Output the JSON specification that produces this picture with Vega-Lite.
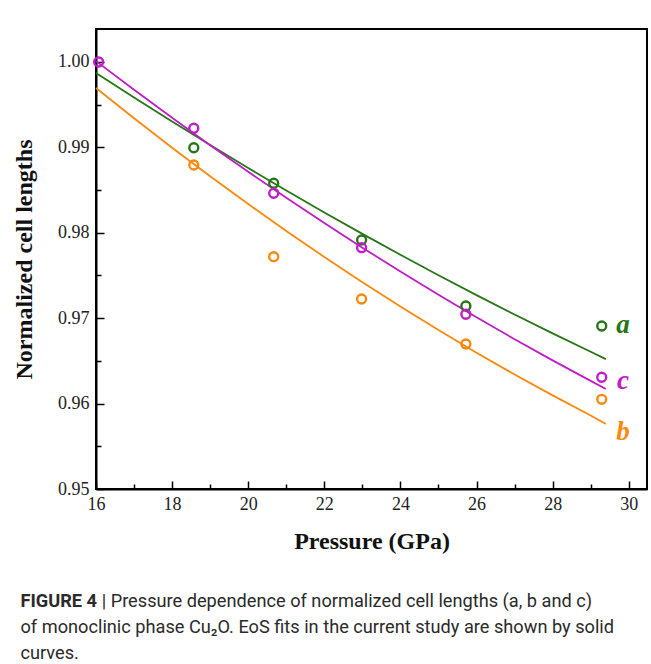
{
  "$schema": "https://vega.github.io/schema/vega-lite/v6.json",
  "width": 551,
  "height": 460,
  "padding": {"left": 12, "top": 29, "right": 5, "bottom": 5},
  "background": "white",
  "title": {
    "text": "FIGURE 4",
    "subtitle": ["\u200b\u00a0\u00a0\u00a0\u00a0\u00a0\u00a0\u00a0\u00a0\u00a0\u00a0\u00a0\u00a0\u00a0\u00a0\u00a0\u00a0\u00a0\u00a0| Pressure dependence of normalized cell lengths (a, b and c)", "of monoclinic phase Cu\u2082O. EoS fits in the current study are shown by solid", "curves."],
    "orient": "bottom",
    "anchor": "start",
    "frame": "bounds",
    "offset": 40,
    "dx": 8,
    "font": "Roboto, sans-serif",
    "fontSize": 18.2,
    "fontWeight": "bold",
    "color": "#2a2a2a",
    "subtitleFont": "Roboto, sans-serif",
    "subtitleFontSize": 18.2,
    "subtitleFontWeight": "normal",
    "subtitleColor": "#2a2a2a",
    "subtitleLineHeight": 26,
    "subtitlePadding": -18
  },
  "config": {
    "view": {"stroke": "black", "strokeWidth": 2},
    "axis": {
      "domainColor": "black",
      "domainWidth": 2,
      "tickColor": "black",
      "tickWidth": 1.5,
      "grid": false,
      "labelFont": "Liberation Serif",
      "labelFontSize": 18,
      "labelColor": "#222",
      "titleFont": "Liberation Serif",
      "titleFontWeight": "bold",
      "titleFontSize": 24,
      "titleColor": "#111"
    }
  },
  "datasets": {
    "curves": [
      {"s": "a", "P": 16, "L": 0.9987}, {"s": "a", "P": 17, "L": 0.99583}, {"s": "a", "P": 18, "L": 0.99302}, {"s": "a", "P": 19, "L": 0.99027}, {"s": "a", "P": 20, "L": 0.98758}, {"s": "a", "P": 21, "L": 0.98495}, {"s": "a", "P": 22, "L": 0.98238}, {"s": "a", "P": 23, "L": 0.97987}, {"s": "a", "P": 24, "L": 0.97742}, {"s": "a", "P": 25, "L": 0.97503}, {"s": "a", "P": 26, "L": 0.9727}, {"s": "a", "P": 27, "L": 0.97043}, {"s": "a", "P": 28, "L": 0.96822}, {"s": "a", "P": 29, "L": 0.96607}, {"s": "a", "P": 29.4, "L": 0.9652},
      {"s": "b", "P": 16, "L": 0.99696}, {"s": "b", "P": 17, "L": 0.99341}, {"s": "b", "P": 18, "L": 0.98996}, {"s": "b", "P": 19, "L": 0.98661}, {"s": "b", "P": 20, "L": 0.98336}, {"s": "b", "P": 21, "L": 0.98021}, {"s": "b", "P": 22, "L": 0.97716}, {"s": "b", "P": 23, "L": 0.97421}, {"s": "b", "P": 24, "L": 0.97136}, {"s": "b", "P": 25, "L": 0.96861}, {"s": "b", "P": 26, "L": 0.96596}, {"s": "b", "P": 27, "L": 0.96341}, {"s": "b", "P": 28, "L": 0.96096}, {"s": "b", "P": 29, "L": 0.95861}, {"s": "b", "P": 29.4, "L": 0.9576},
      {"s": "c", "P": 16, "L": 1.0001}, {"s": "c", "P": 17, "L": 0.99674}, {"s": "c", "P": 18, "L": 0.99346}, {"s": "c", "P": 19, "L": 0.99026}, {"s": "c", "P": 20, "L": 0.98714}, {"s": "c", "P": 21, "L": 0.9841}, {"s": "c", "P": 22, "L": 0.98114}, {"s": "c", "P": 23, "L": 0.97826}, {"s": "c", "P": 24, "L": 0.97546}, {"s": "c", "P": 25, "L": 0.97274}, {"s": "c", "P": 26, "L": 0.9701}, {"s": "c", "P": 27, "L": 0.96754}, {"s": "c", "P": 28, "L": 0.96506}, {"s": "c", "P": 29, "L": 0.96266}, {"s": "c", "P": 29.4, "L": 0.9617}
    ],
    "points": [
      {"s": "a", "P": 18.57, "L": 0.98996}, {"s": "a", "P": 20.67, "L": 0.9858}, {"s": "a", "P": 22.98, "L": 0.97916}, {"s": "a", "P": 25.72, "L": 0.97143}, {"s": "a", "P": 29.29, "L": 0.96909},
      {"s": "b", "P": 18.57, "L": 0.98794}, {"s": "b", "P": 20.67, "L": 0.9772}, {"s": "b", "P": 22.98, "L": 0.97225}, {"s": "b", "P": 25.72, "L": 0.96698}, {"s": "b", "P": 29.29, "L": 0.9605},
      {"s": "c", "P": 16.07, "L": 1.0}, {"s": "c", "P": 18.57, "L": 0.99224}, {"s": "c", "P": 20.67, "L": 0.98463}, {"s": "c", "P": 22.98, "L": 0.97826}, {"s": "c", "P": 25.72, "L": 0.97046}, {"s": "c", "P": 29.29, "L": 0.96308}
    ],
    "labels": [
      {"s": "a", "P": 29.85, "L": 0.9692},
      {"s": "c", "P": 29.85, "L": 0.96265},
      {"s": "b", "P": 29.85, "L": 0.95667}
    ]
  },
  "layer": [
    {
      "data": {"name": "curves"},
      "mark": {"type": "line", "strokeWidth": 1.8},
      "encoding": {
        "x": {"field": "P", "type": "quantitative", "scale": {"domain": [16, 30.48], "nice": false, "zero": false},
          "axis": {"orient": "bottom", "values": [16, 18, 20, 22, 24, 26, 28, 30], "tickSize": -8, "labelPadding": 14, "title": "Pressure (GPa)", "titlePadding": 16, "labelFlush": false}},
        "y": {"field": "L", "type": "quantitative", "scale": {"domain": [0.95, 1.00386], "nice": false, "zero": false},
          "axis": {"orient": "left", "values": [0.95, 0.96, 0.97, 0.98, 0.99, 1.0], "format": ".2f", "tickSize": -8, "labelPadding": 15, "title": "Normalized cell lengths", "titlePadding": 21, "labelFlush": false}},
        "color": {"field": "s", "type": "nominal", "scale": {"domain": ["a", "b", "c"], "range": ["#267616", "#ff880c", "#c01cc8"]}, "legend": null}
      }
    },
    {
      "data": {"name": "points"},
      "mark": {"type": "point", "shape": "circle", "filled": false, "size": 80, "strokeWidth": 2.4, "opacity": 1},
      "encoding": {
        "x": {"field": "P", "type": "quantitative",
          "axis": {"orient": "bottom", "values": [17, 19, 21, 23, 25, 27, 29], "tickSize": -5, "labels": false, "domain": false, "title": null}},
        "y": {"field": "L", "type": "quantitative",
          "axis": {"orient": "left", "values": [0.955, 0.965, 0.975, 0.985, 0.995], "tickSize": -5, "labels": false, "domain": false, "title": null}},
        "color": {"field": "s", "type": "nominal", "legend": null}
      }
    },
    {
      "data": {"name": "labels"},
      "mark": {"type": "text", "font": "Liberation Serif", "fontSize": 27, "fontWeight": "bold", "fontStyle": "italic", "align": "center", "baseline": "middle"},
      "encoding": {
        "x": {"field": "P", "type": "quantitative", "axis": null},
        "y": {"field": "L", "type": "quantitative", "axis": null},
        "text": {"field": "s"},
        "color": {"field": "s", "type": "nominal", "legend": null}
      }
    }
  ],
  "resolve": {"axis": {"x": "independent", "y": "independent"}}
}
